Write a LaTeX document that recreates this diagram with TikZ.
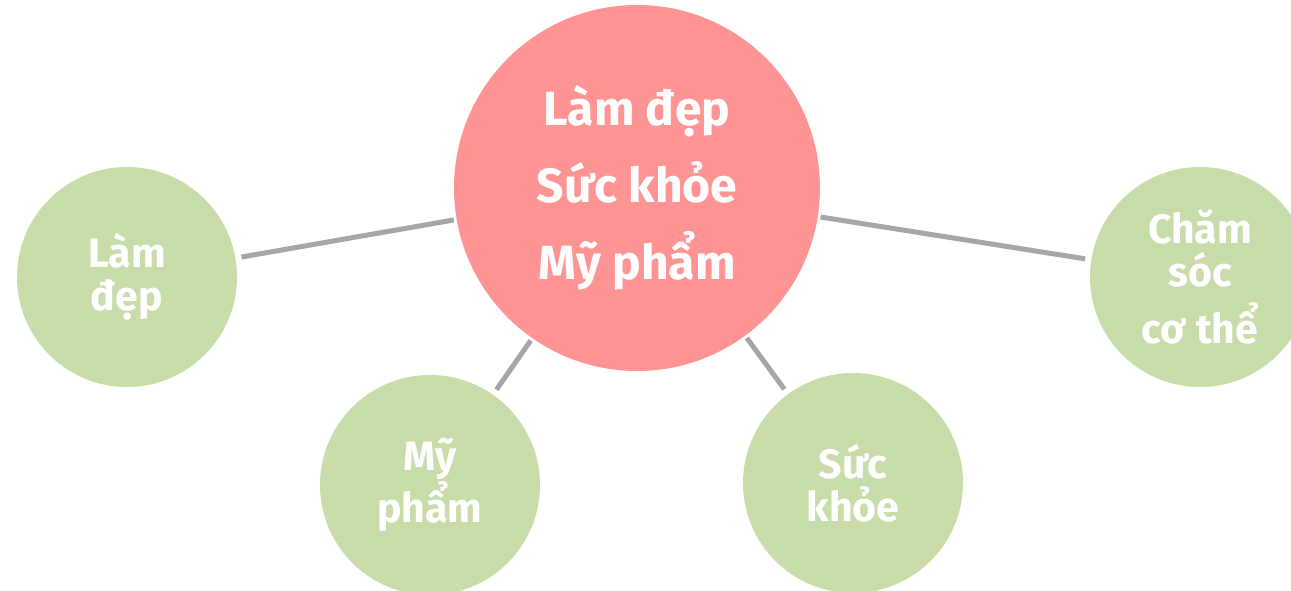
\documentclass[tikz,border=0pt]{standalone}
\usepackage{fontspec}
\setmainfont{Fira Sans}
\usepackage{xcolor}
\usetikzlibrary{positioning}

\definecolor{hubpink}{HTML}{FF9494}
\definecolor{leafgreen}{HTML}{C9DDAB}
\definecolor{linkgray}{HTML}{A6A6A6}

\begin{document}
\begin{tikzpicture}[
        x=0.75pt, y=-0.75pt,
        hub/.style={circle, fill=hubpink, text=white, minimum size=274.5pt, inner sep=0pt, align=center, font=\fontsize{36}{57.75}\selectfont\bfseries},
        leaf/.style={circle, fill=leafgreen, text=white, minimum size=165pt, inner sep=0pt, align=center, font=\fontsize{30.75}{32.25}\selectfont\bfseries},
        link/.style={draw=linkgray, line width=3.75pt, shorten <=2pt, shorten >=4.5pt}
    ]
        \useasboundingbox (0,0) rectangle (1291,591);
        \clip (0,0) rectangle (1291,591);
        \fill[white] (0,0) rectangle (1291,591);

        % Central topic
        \node[hub] (center) at (637,188) {Làm đẹp\\Sức khỏe\\Mỹ phẩm};

        % Sub topics
        \node[leaf] (beauty) at (127,277) {Làm\\đẹp};
        \node[leaf] (cosmetics) at (430,485) {Mỹ\\phẩm};
        \node[leaf] (health) at (853,483) {Sức\\khỏe};
        \node[leaf] (bodycare) at (1200,277) {Chăm\\sóc\\[11pt]cơ thể};

        % Links from the centre
        \draw[link] (center) -- (beauty);
        \draw[link] (center) -- (cosmetics);
        \draw[link] (center) -- (health);
        \draw[link] (center) -- (bodycare);

    \end{tikzpicture}
\end{document}
